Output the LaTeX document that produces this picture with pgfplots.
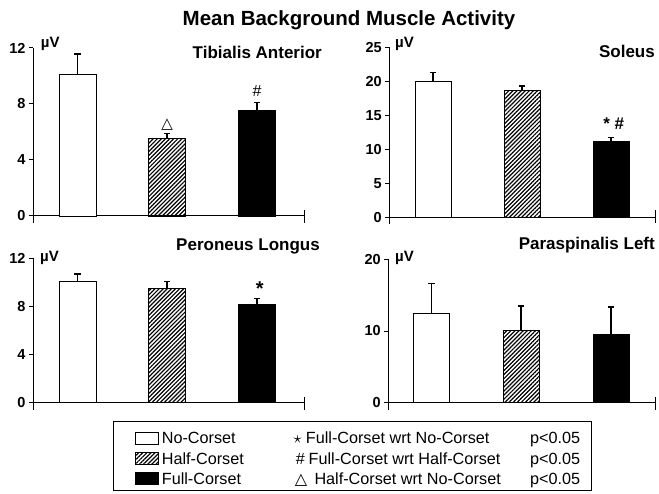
\documentclass[border=0pt]{standalone}
\usepackage{fontspec}
\setmainfont{Liberation Sans}
\newfontfamily\dejavu{DejaVu Sans}
\usepackage{pgfplots}
\pgfplotsset{compat=1.18}
\usetikzlibrary{patterns.meta}

\pgfplotsset{
  panel/.style={
    scale only axis, anchor=south west,
    axis x line*=bottom, axis y line*=left,
    axis line style={line width=1pt, black},
    xtick=\empty,
    ymin=0,
    tick align=outside,
    major tick length=4pt,
    y tick style={line width=1pt, black},
    /pgf/number format/assume math mode=true,
    yticklabel style={font=\bfseries\fontsize{14.5}{16}\selectfont, black},
    ybar, bar shift=0pt,
    clip=false,
    error bars/y dir=plus, error bars/y explicit,
    error bars/error bar style={line width=1.6pt, black},
    error bars/error mark options={rotate=90, line width=1.6pt, mark size=3.2pt, black},
  },
  nc/.style={fill=white, draw=black, line width=0.9pt},
  hc/.style={draw=black, line width=0.9pt, pattern={Lines[angle=45, distance=2.9pt, line width=1.2pt]}},
  fc/.style={fill=black, draw=black, line width=0.9pt},
}

\begin{document}
\begin{tikzpicture}[x=1pt,y=1pt]
\path (0,0) rectangle (659,493);

% Title
\node[anchor=base, font=\bfseries\fontsize{20.5}{24}\selectfont] at (349,467) {Mean Background Muscle Activity};

% ---------- Tibialis Anterior ----------
\begin{axis}[panel, at={(33pt,277pt)}, width=271pt, height=168pt,
  xmin=-0.496, xmax=2.524, ymax=12, ytick={0,4,8,12}, bar width=37pt]
\addplot[nc] coordinates {(0,10.10) +- (0,1.47)};
\addplot[hc] coordinates {(1,5.52) +- (0,0.36)};
\addplot[fc] coordinates {(2,7.55) +- (0,0.55)};
\draw[line width=1pt] (rel axis cs:0,0) -- ([yshift=-7pt]rel axis cs:0,0);
\draw[line width=1pt] ([yshift=6pt]rel axis cs:1,0) -- ([yshift=-7pt]rel axis cs:1,0);
\node[anchor=base, font=\dejavu\fontsize{15}{15}\selectfont, inner sep=0pt] at (axis cs:1,6.26) {△};
\node[anchor=base, font=\fontsize{16}{16}\selectfont, inner sep=0pt] at (axis cs:2,8.52) {\#};
\end{axis}
\node[anchor=base west, font=\bfseries\fontsize{15}{17}\selectfont, inner sep=0pt] at (40.7,445) {µV};
\node[anchor=base east, font=\bfseries\fontsize{17}{20}\selectfont, inner sep=0pt] at (322,434.5) {Tibialis Anterior};

% ---------- Soleus ----------
\begin{axis}[panel, at={(389.3pt,275.7pt)}, width=265.7pt, height=170pt,
  xmin=-0.491, xmax=2.494, ymax=25, ytick={0,5,10,15,20,25}, bar width=36pt]
\addplot[nc] coordinates {(0,20.0) +- (0,1.3)};
\addplot[hc] coordinates {(1,18.7) +- (0,0.6)};
\addplot[fc] coordinates {(2,11.2) +- (0,0.56)};
\draw[line width=1pt] (rel axis cs:0,0) -- ([yshift=-7pt]rel axis cs:0,0);
\draw[line width=1pt] ([yshift=7pt]rel axis cs:1,0) -- ([yshift=-6pt]rel axis cs:1,0);
\node[anchor=base, font=\bfseries\fontsize{17}{17}\selectfont, inner sep=0pt] at (axis cs:2.03,12.84) {* \#};
\end{axis}
\node[anchor=base west, font=\bfseries\fontsize{15}{17}\selectfont, inner sep=0pt] at (395,445) {µV};
\node[anchor=base east, font=\bfseries\fontsize{17}{20}\selectfont, inner sep=0pt] at (655,435.7) {Soleus};

% ---------- Peroneus Longus ----------
\begin{axis}[panel, at={(33pt,90.3pt)}, width=271pt, height=144.4pt,
  xmin=-0.496, xmax=2.524, ymax=12, ytick={0,4,8,12}, bar width=37pt]
\addplot[nc] coordinates {(0,10.06) +- (0,0.64)};
\addplot[hc] coordinates {(1,9.48) +- (0,0.58)};
\addplot[fc] coordinates {(2,8.15) +- (0,0.50)};
\draw[line width=1pt] (rel axis cs:0,0) -- ([yshift=-7pt]rel axis cs:0,0);
\draw[line width=1pt] ([yshift=6pt]rel axis cs:1,0) -- ([yshift=-7pt]rel axis cs:1,0);
\node[anchor=base, font=\bfseries\fontsize{20}{20}\selectfont, inner sep=0pt] at (axis cs:2.03,8.87) {*};
\end{axis}
\node[anchor=base west, font=\bfseries\fontsize{15}{17}\selectfont, inner sep=0pt] at (40,231.3) {µV};
\node[anchor=base east, font=\bfseries\fontsize{17}{20}\selectfont, inner sep=0pt] at (320,242.3) {Peroneus Longus};

% ---------- Paraspinalis Left ----------
\begin{axis}[panel, at={(388.3pt,90.3pt)}, width=266.7pt, height=143.4pt,
  xmin=-0.48, xmax=2.49, ymax=20, ytick={0,10,20}, bar width=36pt]
\addplot[nc] coordinates {(0,12.47) +- (0,4.13)};
\addplot[hc] coordinates {(1,10.05) +- (0,3.45)};
\addplot[fc] coordinates {(2,9.54) +- (0,3.81)};
\draw[line width=1pt] (rel axis cs:0,0) -- ([yshift=-7pt]rel axis cs:0,0);
\draw[line width=1pt] ([yshift=6pt]rel axis cs:1,0) -- ([yshift=-7pt]rel axis cs:1,0);
\end{axis}
\node[anchor=base west, font=\bfseries\fontsize{15}{17}\selectfont, inner sep=0pt] at (395,231.3) {µV};
\node[anchor=base east, font=\bfseries\fontsize{17}{20}\selectfont, inner sep=0pt] at (655,243) {Paraspinalis Left};

% ---------- Legend ----------
\draw[line width=1pt] (113,71) rectangle (591,3);
\draw[line width=0.9pt, fill=white] (135.3,49) rectangle (158.3,61);
\draw[line width=0.9pt, pattern={Lines[angle=45, distance=2.9pt, line width=1.2pt]}] (135.3,28.3) rectangle (158.3,40.3);
\draw[line width=0.9pt, fill=black] (135.3,8.3) rectangle (158.3,20.3);
\begin{scope}[every node/.style={font=\fontsize{16.2}{18}\selectfont, inner sep=0pt, anchor=base west}]
\node at (161.7,49) {No-Corset};
\node at (161.7,28.3) {Half-Corset};
\node at (161.7,8.3) {Full-Corset};
\node[anchor=base] at (297.7,49) {$\star$};
\node at (305.7,49) {Full-Corset wrt No-Corset};
\node[anchor=base] at (300.5,28.3) {\#};
\node at (308.5,28.3) {Full-Corset wrt Half-Corset};
\node[anchor=base, font=\dejavu\fontsize{16}{16}\selectfont] at (301,8.3) {△};
\node at (314.3,8.3) {Half-Corset wrt No-Corset};
\node at (530,49) {p<0.05};
\node at (530,28.3) {p<0.05};
\node at (530,8.3) {p<0.05};
\end{scope}
\end{tikzpicture}
\end{document}
